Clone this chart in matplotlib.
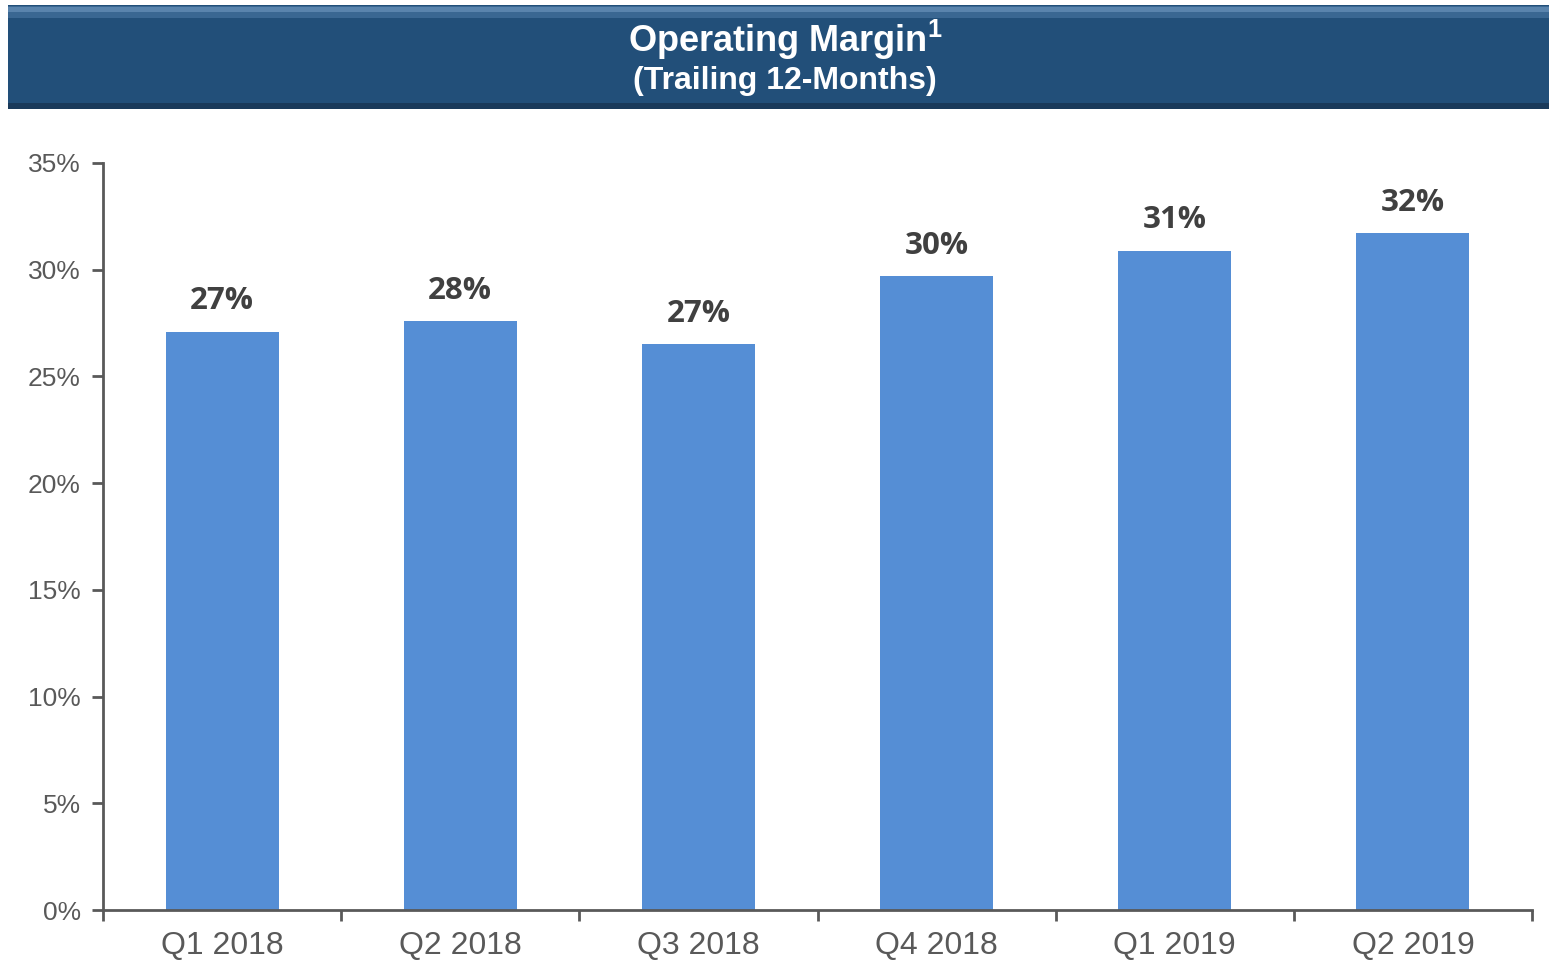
import matplotlib
matplotlib.use("Agg")
import matplotlib.pyplot as plt
from matplotlib.patches import Rectangle
import numpy as np

categories = ["Q1 2018", "Q2 2018", "Q3 2018", "Q4 2018", "Q1 2019", "Q2 2019"]
values = [27.1, 27.6, 26.5, 29.7, 30.9, 31.7]
labels = ["27%", "28%", "27%", "30%", "31%", "32%"]
yticks = [0, 5, 10, 15, 20, 25, 30, 35]

W, H = 1549, 964
fig = plt.figure(figsize=(W / 100, H / 100), dpi=100)
fig.patch.set_facecolor("white")

# header band
band_x0, band_x1 = 8 / W, 1.0
band_y0, band_y1 = 1 - 109 / H, 1 - 5 / H
fig.patches.append(Rectangle((band_x0, band_y0), band_x1 - band_x0, band_y1 - band_y0,
                             transform=fig.transFigure, facecolor="#224F79", edgecolor="none", zorder=0))
fig.patches.append(Rectangle((band_x0, 1 - 18 / H), band_x1 - band_x0, 12 / H,
                             transform=fig.transFigure, facecolor="#3A6792", edgecolor="none", zorder=1))
fig.patches.append(Rectangle((band_x0, 1 - 12 / H), band_x1 - band_x0, 5 / H,
                             transform=fig.transFigure, facecolor="#5A84AD", edgecolor="none", zorder=1))
fig.patches.append(Rectangle((band_x0, band_y0), band_x1 - band_x0, 6 / H,
                             transform=fig.transFigure, facecolor="#1A3A5A", edgecolor="none", zorder=1))

fig.text(0.507, 1 - 40 / H, "Operating Margin$^{\\mathregular{1}}$", ha="center", va="center",
         color="white", fontsize=26, fontweight="bold", family="Liberation Sans")
fig.text(0.507, 1 - 81 / H, "(Trailing 12-Months)", ha="center", va="center",
         color="white", fontsize=23, fontweight="bold", family="Liberation Sans")

ax = fig.add_axes([103 / W, 1 - 910 / H, (1532 - 103) / W, (910 - 163) / H])
x = np.arange(len(categories))
ax.bar(x, values, width=0.475, color="#558ED5", zorder=2)
for xi, v, lab in zip(x, values, labels):
    ax.annotate(lab, (xi, v), xytext=(0, 11), textcoords="offset points", ha="center", va="bottom",
                fontsize=22.5, fontweight="bold", color="#404040", family="Open Sans")

ax.set_xlim(-0.5, len(categories) - 0.5)
ax.set_ylim(0, 35)
ax.set_yticks(yticks)
ax.set_yticklabels([f"{t}%" for t in yticks], fontsize=19, color="#595959", family="Liberation Sans")
ax.set_xticks(x)
ax.set_xticklabels(categories, fontsize=23, color="#595959", family="Liberation Sans")
ax.tick_params(axis="x", which="major", length=0, pad=15)
ax.set_xticks(np.arange(-0.5, len(categories)), minor=True)
ax.tick_params(axis="x", which="minor", length=8, width=2, color="#595959", direction="out")
ax.tick_params(axis="y", length=8, width=2, color="#595959", direction="out", pad=8)
for s in ["top", "right"]:
    ax.spines[s].set_visible(False)
for s in ["left", "bottom"]:
    ax.spines[s].set_color("#595959")
    ax.spines[s].set_linewidth(2)

fig.savefig("out.png", dpi=100)
